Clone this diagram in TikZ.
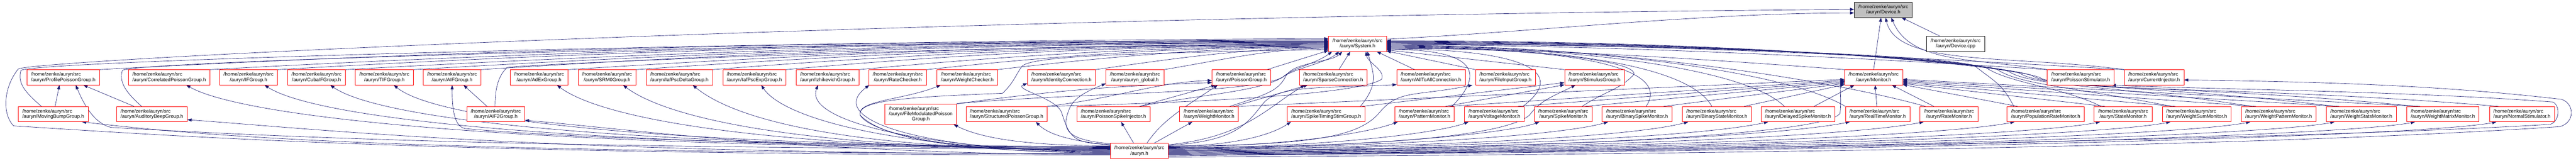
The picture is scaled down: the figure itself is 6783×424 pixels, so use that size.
\documentclass[tikz,border=0pt]{standalone}
\usepackage{fontspec}
\newfontfamily\dotfont{Liberation Sans}
\usetikzlibrary{arrows.meta}
\definecolor{edgeblue}{RGB}{25,25,112}
\definecolor{rootgrey}{RGB}{191,191,191}
\newlength\fnamewa
\newlength\fnamewb
\newcommand\fname[1]{\settowidth\fnamewa{/home/zenke/auryn/src}\settowidth\fnamewb{#1}%
  \ifdim\fnamewb>\fnamewa\fnamewa=\fnamewb\fi
  \makebox[\fnamewa][l]{/home/zenke/auryn/src}\\#1}
\pgfdeclarelayer{bg}
\pgfsetlayers{bg,main}
\tikzset{
  fileh/.style={draw=red, fill=white, line width=0.9pt, minimum height=40pt, inner xsep=10.5pt, inner ysep=1pt, align=center, font=\dotfont\fontsize{13}{14}\selectfont},
  rootfile/.style={fileh, draw=black, fill=rootgrey},
  plainfile/.style={fileh, draw=black},
  incl/.style={draw=edgeblue, line width=0.9pt, -{Triangle[length=11pt,width=8pt]}}
}
\begin{document}
\begin{tikzpicture}[x=1pt,y=1pt]
\useasboundingbox (0,0) rectangle (6783,424);
	\node[rootfile] (dev) at (4959,398) {\fname{/auryn/Device.h}};
	\node[fileh] (sys) at (3574.5,308.5) {\fname{/auryn/System.h}};
	\node[plainfile] (devcpp) at (5149.5,308.5) {\fname{/auryn/Device.cpp}};

	\node[fileh] (ppg) at (166.5,220) {\fname{/auryn/ProfilePoissonGroup.h}};
	\node[fileh] (cpg) at (445.5,220) {\fname{/auryn/CorrelatedPoissonGroup.h}};
	\node[fileh] (ifg) at (654.5,220) {\fname{/auryn/IFGroup.h}};
	\node[fileh] (cifg) at (833.5,220) {\fname{/auryn/CubaIFGroup.h}};
	\node[fileh] (tif) at (1012,220) {\fname{/auryn/TIFGroup.h}};
	\node[fileh] (aif) at (1190.5,220) {\fname{/auryn/AIFGroup.h}};
	\node[fileh] (adex) at (1419.5,220) {\fname{/auryn/AdExGroup.h}};
	\node[fileh] (srm) at (1598.5,220) {\fname{/auryn/SRM0Group.h}};
	\node[fileh] (ipd) at (1789,220) {\fname{/auryn/IafPscDeltaGroup.h}};
	\node[fileh] (ipe) at (1986.5,220) {\fname{/auryn/IafPscExpGroup.h}};
	\node[fileh] (izh) at (2179,220) {\fname{/auryn/IzhikevichGroup.h}};
	\node[fileh] (rchk) at (2364,220) {\fname{/auryn/RateChecker.h}};
	\node[fileh] (wchk) at (2547,220) {\fname{/auryn/WeightChecker.h}};
	\node[fileh] (idc) at (2795,220) {\fname{/auryn/IdentityConnection.h}};
	\node[fileh] (glob) at (2988.5,220) {\fname{/auryn/auryn\_global.h}};
	\node[fileh] (pg) at (3268.5,220) {\fname{/auryn/PoissonGroup.h}};
	\node[fileh] (spc) at (3510.5,220) {\fname{/auryn/SparseConnection.h}};
	\node[fileh] (a2a) at (3768,220) {\fname{/auryn/AllToAllConnection.h}};
	\node[fileh] (fig) at (3964,220) {\fname{/auryn/FileInputGroup.h}};
	\node[fileh] (stg) at (4198.5,220) {\fname{/auryn/StimulusGroup.h}};
	\node[fileh] (mon) at (4933.5,220) {\fname{/auryn/Monitor.h}};
	\node[fileh] (pst) at (5478.5,220) {\fname{/auryn/PoissonStimulator.h}};
	\node[fileh] (cin) at (5672,220) {\fname{/auryn/CurrentInjector.h}};

	\node[fileh] (mbg) at (140,123) {\fname{/auryn/MovingBumpGroup.h}};
	\node[fileh] (abg) at (400,123) {\fname{/auryn/AuditoryBeepGroup.h}};
	\node[fileh] (aif2) at (1305.5,123) {\fname{/auryn/AIF2Group.h}};
	\node[fileh, minimum height=54pt] (fmpg) at (2424.5,123) {\fname{/auryn/FileModulatedPoisson}\\Group.h};
	\node[fileh] (spg) at (2650.5,123) {\fname{/auryn/StructuredPoissonGroup.h}};
	\node[fileh] (psi) at (2932,123) {\fname{/auryn/PoissonSpikeInjector.h}};
	\node[fileh] (wmon) at (3183.5,123) {\fname{/auryn/WeightMonitor.h}};
	\node[fileh] (stsg) at (3492,123) {\fname{/auryn/SpikeTimingStimGroup.h}};
	\node[fileh] (patm) at (3751,123) {\fname{/auryn/PatternMonitor.h}};
	\node[fileh] (vm) at (3935,123) {\fname{/auryn/VoltageMonitor.h}};
	\node[fileh] (sm) at (4116,123) {\fname{/auryn/SpikeMonitor.h}};
	\node[fileh] (bsm) at (4310.5,123) {\fname{/auryn/BinarySpikeMonitor.h}};
	\node[fileh] (bstm) at (4520.5,123) {\fname{/auryn/BinaryStateMonitor.h}};
	\node[fileh] (dsm) at (4734.5,123) {\fname{/auryn/DelayedSpikeMonitor.h}};
	\node[fileh] (rtm) at (4944,123) {\fname{/auryn/RealTimeMonitor.h}};
	\node[fileh] (rm) at (5132,123) {\fname{/auryn/RateMonitor.h}};
	\node[fileh] (prm) at (5386.5,123) {\fname{/auryn/PopulationRateMonitor.h}};
	\node[fileh] (stm) at (5590.5,123) {\fname{/auryn/StateMonitor.h}};
	\node[fileh] (wsm) at (5784,123) {\fname{/auryn/WeightSumMonitor.h}};
	\node[fileh] (wpm) at (6000,123) {\fname{/auryn/WeightPatternMonitor.h}};
	\node[fileh] (wstm) at (6217.5,123) {\fname{/auryn/WeightStatsMonitor.h}};
	\node[fileh] (wmm) at (6432.5,123) {\fname{/auryn/WeightMatrixMonitor.h}};
	\node[fileh] (nst) at (6640.5,123) {\fname{/auryn/NormalStimulator.h}};

	\node[fileh] (auryn) at (3000,26) {\fname{/auryn.h}};

\begin{pgfonlayer}{bg}
	% into Device.h
	\draw[incl] ([xshift=-42pt]devcpp.north) -- (dev.-23);
	\draw[incl] (mon.north) -- ([xshift=-6pt]dev.south);
	\draw[incl] (pst.north west) .. controls +(-200,30) and +(50,-120) .. ([xshift=21pt]dev.south);
	\draw[incl] (cin.north west) .. controls +(-300,40) and +(30,-130) .. ([xshift=6pt]dev.south);
	\draw[incl] (sys.9) .. controls +(400,20) and +(-400,0) .. (dev.186);
	\draw[incl] (auryn.188) .. controls +(-1800,0) and +(400,-25) .. (36,92) .. controls +(-30,30) and +(-40,-50) .. (48,242) .. controls +(40,25) and +(-2500,-20) .. (dev.179);

	% into System.h
	\draw[incl] (ppg.north east) .. controls +(1100,60) and +(-1100,0) .. (sys.174);
	\draw[incl] (cpg.north east) .. controls +(1000,55) and +(-1000,0) .. (sys.175);
	\draw[incl] (ifg.north east) .. controls +(950,55) and +(-950,0) .. (sys.176);
	\draw[incl] (cifg.north east) .. controls +(900,50) and +(-900,0) .. (sys.177);
	\draw[incl] (tif.north east) .. controls +(850,50) and +(-850,0) .. (sys.178);
	\draw[incl] (aif.north east) .. controls +(780,50) and +(-780,0) .. (sys.179);
	\draw[incl] (adex.north east) .. controls +(700,45) and +(-700,0) .. (sys.181);
	\draw[incl] (srm.north east) .. controls +(640,45) and +(-640,0) .. (sys.182);
	\draw[incl] (ipd.north east) .. controls +(570,45) and +(-570,0) .. (sys.183);
	\draw[incl] (ipe.north east) .. controls +(500,45) and +(-500,0) .. (sys.184);
	\draw[incl] (izh.north east) .. controls +(430,40) and +(-430,0) .. (sys.185);
	\draw[incl] (rchk.north east) .. controls +(370,40) and +(-370,0) .. (sys.186);
	\draw[incl] (wchk.north east) .. controls +(300,35) and +(-300,0) .. (sys.187);
	\draw[incl] (idc.north east) .. controls +(210,30) and +(-210,0) .. (sys.188);
	\draw[incl] (glob.north east) .. controls +(150,25) and +(-150,0) .. (sys.189);
	\draw[incl] ([xshift=68pt]pg.north) -- (sys.193);
	\draw[incl] ([xshift=-31pt]mbg.north) .. controls +(-40,35) and +(-10,-35) .. (55,238) .. controls +(10,25) and +(-1500,-5) .. (sys.170);
	\draw[incl] ([xshift=-27pt]abg.north) .. controls +(-45,40) and +(-8,-30) .. (322,238) .. controls +(8,25) and +(-1300,-5) .. (sys.172);
	\draw[incl] ([xshift=-2pt]aif2.north) .. controls +(0,55) and +(-20,-20) .. (1335,246) .. controls +(40,8) and +(-1000,-5) .. (sys.180);
	\draw[incl] (fmpg.north east) .. controls +(300,30) and +(-50,-50) .. (3383,225) .. controls +(25,20) and +(-40,-30) .. (sys.197);
	\draw[incl] (spg.north east) .. controls +(400,10) and +(-60,-40) .. (3638,215) .. controls +(10,25) and +(5,-30) .. (sys.-43);
	\draw[incl] ([xshift=69pt]psi.north) .. controls +(150,30) and +(-60,-40) .. (3380,222) .. controls +(25,20) and +(-35,-30) .. (sys.203);
	\draw[incl] ([xshift=55pt]wmon.north) .. controls +(90,30) and +(-20,-40) .. (3385,222) .. controls +(20,40) and +(-30,-30) .. (sys.207);
	\draw[incl] ([xshift=90pt]stsg.north) .. controls +(50,60) and +(15,-55) .. (sys.-38);
	\draw[incl] (auryn.184) .. controls +(-400,0) and +(30,-50) .. (2265,120) .. controls +(-10,40) and +(-250,-10) .. (2640,178) .. controls +(30,30) and +(-20,-30) .. (2690,248) .. controls +(20,30) and +(-500,-10) .. (sys.191);
	\draw[incl] ([xshift=15pt]spc.north) -- (sys.227);
	\draw[incl] ([xshift=-43pt]a2a.north) -- (sys.-22);
	\draw[incl] (fig.north west) -- (sys.-14);
	\draw[incl] (stg.north west) -- (sys.-12.5);
	\draw[incl] (mon.north west) .. controls +(-400,30) and +(400,0) .. (sys.-9);
	\draw[incl] (pst.north west) .. controls +(-550,35) and +(550,0) .. (sys.-2);
	\draw[incl] (cin.north west) .. controls +(-600,35) and +(650,0) .. (sys.1);
	\draw[incl] ([xshift=72pt]patm.north) .. controls +(80,80) and +(250,0) .. (sys.-11);
	\draw[incl] ([xshift=75pt]vm.north) .. controls +(140,107) and +(300,0) .. (sys.-10);
	\draw[incl] ([xshift=50pt]sm.north) .. controls +(60,40) and +(-40,-40) .. (4300,225) .. controls +(30,35) and +(400,0) .. (sys.-8);
	\draw[incl] ([xshift=24pt]bsm.north) .. controls +(80,120) and +(400,0) .. (sys.-7);
	\draw[incl] ([xshift=-13pt]bstm.north) .. controls +(-60,110) and +(450,0) .. (sys.-6);
	\draw[incl] ([xshift=-36pt]dsm.north) .. controls +(-100,100) and +(500,0) .. (sys.-5);
	\draw[incl] (rtm.north west) .. controls +(-150,90) and +(550,0) .. (sys.-4);
	\draw[incl] ([xshift=-62pt]rm.north) .. controls +(-250,70) and +(600,0) .. (sys.-3);
	\draw[incl] ([xshift=-84pt]prm.north) .. controls +(-30,60) and +(50,-40) .. (5200,250) .. controls +(-80,30) and +(700,0) .. (sys.-1);
	\draw[incl] ([xshift=-58pt]stm.north) .. controls +(-100,50) and +(60,-40) .. (5230,245) .. controls +(-80,30) and +(750,0) .. (sys.0);
	\draw[incl] ([xshift=-66pt]wsm.north) .. controls +(-250,50) and +(60,-40) .. (5260,240) .. controls +(-80,30) and +(800,0) .. (sys.2);
	\draw[incl] ([xshift=-70pt]wpm.north) .. controls +(-350,55) and +(60,-40) .. (5290,235) .. controls +(-80,30) and +(850,0) .. (sys.3);
	\draw[incl] ([xshift=-68pt]wstm.north) .. controls +(-450,55) and +(60,-40) .. (5320,230) .. controls +(-80,30) and +(900,0) .. (sys.4);
	\draw[incl] ([xshift=-70pt]wmm.north) .. controls +(-550,55) and +(60,-40) .. (5350,225) .. controls +(-80,30) and +(950,0) .. (sys.5);
	\draw[incl] ([xshift=-62pt]nst.north) .. controls +(-650,55) and +(60,-40) .. (5370,220) .. controls +(-80,30) and +(1000,0) .. (sys.6);

	% from auryn.h
	\draw[incl] (auryn.176) .. controls +(-1600,0) and +(350,-20) .. (292,88) .. controls +(-40,10) and +(25,-60) .. ([xshift=33pt]ppg.south);
	\draw[incl] (auryn.175) .. controls +(-1500,0) and +(160,-90) .. ([xshift=45pt]cpg.south);
	\draw[incl] (auryn.174) .. controls +(-1400,0) and +(140,-90) .. ([xshift=42pt]ifg.south);
	\draw[incl] (auryn.173) .. controls +(-1300,0) and +(130,-90) .. ([xshift=36pt]cifg.south);
	\draw[incl] (auryn.172) .. controls +(-1200,0) and +(110,-90) .. ([xshift=25pt]tif.south);
	\draw[incl] (auryn.171) .. controls +(-1000,0) and +(150,-15) .. (1225,85) .. controls +(-30,5) and +(0,-60) .. (aif.south);
	\draw[incl] (auryn.177) .. controls +(-900,0) and +(120,-90) .. ([xshift=47pt]adex.south);
	\draw[incl] (auryn.178) .. controls +(-800,0) and +(120,-90) .. ([xshift=42pt]srm.south);
	\draw[incl] (auryn.179) .. controls +(-700,0) and +(110,-90) .. ([xshift=35pt]ipd.south);
	\draw[incl] (auryn.180) .. controls +(-550,0) and +(60,-90) .. ([xshift=18pt]ipe.south);
	\draw[incl] (auryn.181) .. controls +(-450,0) and +(-40,-100) .. ([xshift=-25pt]izh.south);
	\draw[incl] (auryn.182) .. controls +(-500,0) and +(-120,-90) .. ([xshift=-75pt]rchk.south);
	\draw[incl] (auryn.183) .. controls +(-500,0) and +(40,-40) .. (2265,120) .. controls +(-10,40) and +(-100,-40) .. ([xshift=-70pt]wchk.south);
	\draw[incl] (auryn.167) .. controls +(-100,0) and +(20,-60) .. (2796,125) .. controls +(-10,40) and +(-40,-15) .. (idc.190);
	\draw[incl] (auryn.166) .. controls +(-120,10) and +(-20,-50) .. (2815,135) .. controls +(10,30) and +(-50,-20) .. (glob.192);
	\draw[incl] ([xshift=20pt]auryn.north) .. controls +(40,60) and +(-90,-60) .. ([xshift=-62pt]pg.south);
	\draw[incl] (auryn.12) .. controls +(200,20) and +(-100,-60) .. ([xshift=-75pt]spc.south);
	\draw[incl] (auryn.11) .. controls +(180,10) and +(-40,-50) .. (3325,150) .. controls +(40,50) and +(-200,-10) .. (a2a.192);
	\draw[incl] (auryn.10) .. controls +(400,0) and +(-50,-60) .. (3633,128) .. controls +(50,60) and +(-150,-30) .. ([xshift=-87pt]fig.south);
	\draw[incl] (auryn.7) .. controls +(600,0) and +(-60,-50) .. (4027,120) .. controls +(30,40) and +(-60,-30) .. ([xshift=-50pt]stg.south);
	\draw[incl] (auryn.1) .. controls +(900,0) and +(-40,-60) .. (4845,125) .. controls +(5,40) and +(-15,-15) .. (mon.186);
	\draw[incl] (auryn.-12) .. controls +(2000,10) and +(-600,-40) .. (6740,90) .. controls +(40,10) and +(35,-12) .. (6745,162) .. controls +(-300,35) and +(400,-5) .. (cin.-5);
	\draw[incl] (auryn.-10) .. controls +(2000,25) and +(-500,-30) .. (6715,96) .. controls +(25,8) and +(20,-10) .. (6722,155) .. controls +(-400,30) and +(200,-10) .. (pst.-14);

	\draw[incl] (auryn.185) .. controls +(-1900,0) and +(300,-35) .. ([xshift=76pt]mbg.south);
	\draw[incl] (auryn.186) .. controls +(-1500,0) and +(350,-25) .. (abg.-9);
	\draw[incl] (auryn.187) .. controls +(-800,0) and +(250,-20) .. (aif2.-12);
	\draw[incl] (auryn.170) .. controls +(-200,0) and +(80,-40) .. ([xshift=-8pt]fmpg.south east);
	\draw[incl] (auryn.169) .. controls +(-80,10) and +(40,-40) .. ([xshift=77pt]spg.south);
	\draw[incl] ([xshift=-15pt]auryn.north) -- ([xshift=20pt]psi.south);
	\draw[incl] ([xshift=39pt]auryn.north) -- ([xshift=-44pt]wmon.south);
	\draw[incl] (auryn.9) .. controls +(150,0) and +(-60,-40) .. ([xshift=10pt]stsg.south west);
	\draw[incl] (auryn.8) .. controls +(300,0) and +(-80,-30) .. ([xshift=8pt]patm.south west);
	\draw[incl] (auryn.6) .. controls +(400,0) and +(-80,-30) .. ([xshift=11pt]vm.south west);
	\draw[incl] (auryn.5) .. controls +(500,0) and +(-80,-30) .. ([xshift=14pt]sm.south west);
	\draw[incl] (auryn.4) .. controls +(600,5) and +(-120,-35) .. ([xshift=16pt]bsm.south west);
	\draw[incl] (auryn.3) .. controls +(700,5) and +(-150,-40) .. ([xshift=16pt]bstm.south west);
	\draw[incl] (auryn.2) .. controls +(800,5) and +(-180,-40) .. ([xshift=19pt]dsm.south west);
	\draw[incl] (auryn.0) .. controls +(900,5) and +(-200,-40) .. ([xshift=12pt]rtm.south west);
	\draw[incl] (auryn.-1) .. controls +(1000,5) and +(-200,-40) .. ([xshift=10pt]rm.south west);
	\draw[incl] (auryn.-2) .. controls +(1100,5) and +(-200,-40) .. ([xshift=20pt]prm.south west);
	\draw[incl] (auryn.-3) .. controls +(1200,5) and +(-200,-40) .. ([xshift=16pt]stm.south west);
	\draw[incl] (auryn.-4) .. controls +(1300,5) and +(-200,-40) .. ([xshift=22pt]wsm.south west);
	\draw[incl] (auryn.-5) .. controls +(1400,5) and +(-200,-40) .. ([xshift=24pt]wpm.south west);
	\draw[incl] (auryn.-6) .. controls +(1500,5) and +(-200,-40) .. ([xshift=22pt]wstm.south west);
	\draw[incl] (auryn.-7) .. controls +(1600,5) and +(-200,-40) .. ([xshift=22pt]wmm.south west);
	\draw[incl] (auryn.-8) .. controls +(1700,5) and +(-200,-40) .. ([xshift=19pt]nst.south west);

	% into Monitor.h
	\draw[incl] (wmon.north east) -- (mon.184);
	\draw[incl] ([xshift=66pt]patm.north) -- (mon.186);
	\draw[incl] ([xshift=62pt]vm.north) -- (mon.188);
	\draw[incl] ([xshift=58pt]sm.north) -- (mon.190);
	\draw[incl] ([xshift=70pt]bsm.north) -- (mon.192);
	\draw[incl] ([xshift=72pt]bstm.north) -- (mon.194);
	\draw[incl] ([xshift=42pt]dsm.north) -- (mon.202);
	\draw[incl] ([xshift=-2pt]rtm.north) -- ([xshift=4pt]mon.south);
	\draw[incl] ([xshift=-40pt]rm.north) -- (mon.-23);
	\draw[incl] ([xshift=-74pt]prm.north) -- (mon.-14);
	\draw[incl] ([xshift=-48pt]stm.north) -- (mon.-12);
	\draw[incl] ([xshift=-56pt]wsm.north) -- (mon.-10);
	\draw[incl] ([xshift=-60pt]wpm.north) -- (mon.-8);
	\draw[incl] ([xshift=-58pt]wstm.north) -- (mon.-6);
	\draw[incl] ([xshift=-60pt]wmm.north) -- (mon.-4);

	% other includes
	\draw[incl] ([xshift=5pt]mbg.north) -- ([xshift=-10pt]ppg.south);
	\draw[incl] ([xshift=-47pt]abg.north) -- ([xshift=53pt]ppg.south);
	\draw[incl] ([xshift=-23pt]aif2.north) -- ([xshift=30pt]aif.south);
	\draw[incl] (fmpg.north east) .. controls +(300,40) and +(-250,-10) .. (pg.190);
	\draw[incl] (spg.north east) .. controls +(200,25) and +(-150,-5) .. (pg.186);
	\draw[incl] ([xshift=69pt]psi.north) -- ([xshift=-68pt]pg.south);
	\draw[incl] ([xshift=66pt]wmon.north) -- ([xshift=-67pt]spc.south);
	\draw[incl] ([xshift=95pt]stsg.north) -- (stg.190);
	\draw[incl] ([xshift=55pt]patm.north) -- (stg.194);
\end{pgfonlayer}
\end{tikzpicture}
\end{document}
